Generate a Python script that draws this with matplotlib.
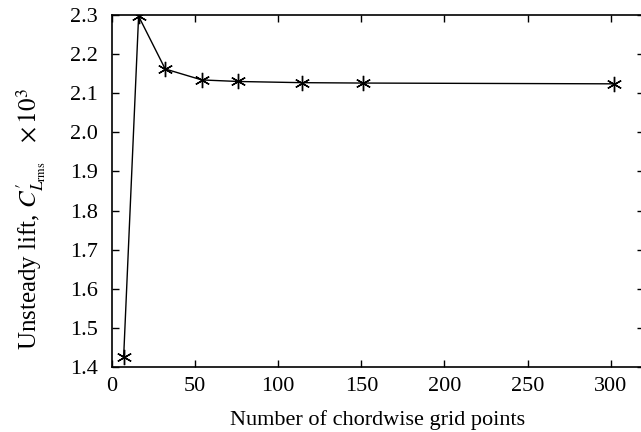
import matplotlib
matplotlib.use('Agg')
import matplotlib.pyplot as plt

# grid convergence data
n_points = [7, 16, 32, 54, 76, 114, 151, 302]
cl_rms = [1.425, 2.297, 2.162, 2.134, 2.130, 2.127, 2.126, 2.124]

plt.rcParams['font.family'] = ['Liberation Serif', 'DejaVu Serif']
plt.rcParams['mathtext.fontset'] = 'stix'

fig = plt.figure(figsize=(6.41, 4.32), dpi=100)
ax = fig.add_axes([112/641, 1 - 367/432, (644 - 112)/641, (367 - 15)/432])

ax.plot(n_points, cl_rms, color='black', linewidth=1.0,
        marker=(6, 2, 0), markersize=11, markeredgewidth=1.0)

ax.set_xlim(0, 320)
ax.set_ylim(1.4, 2.3)
ax.set_xticks([0, 50, 100, 150, 200, 250, 300])
ax.set_yticks([1.4, 1.5, 1.6, 1.7, 1.8, 1.9, 2.0, 2.1, 2.2, 2.3])
ax.set_yticklabels(['%.1f' % v for v in ax.get_yticks()])
ax.tick_params(direction='in', top=True, right=True, length=5, width=1,
               labelsize=16)
ax.tick_params(axis='y', pad=10)
ax.tick_params(axis='x', pad=7)
for s in ax.spines.values():
    s.set_linewidth(1.2)

ax.set_xlabel('Number of chordwise grid points', fontsize=16, labelpad=10)
ax.set_ylabel(r"Unsteady lift, $C^{\prime}_{L_{\rm rms}}$   $\times\,10^3$", fontsize=18)
ax.yaxis.set_label_coords(-0.12, 0.42)

fig.savefig('out.png', dpi=100)
